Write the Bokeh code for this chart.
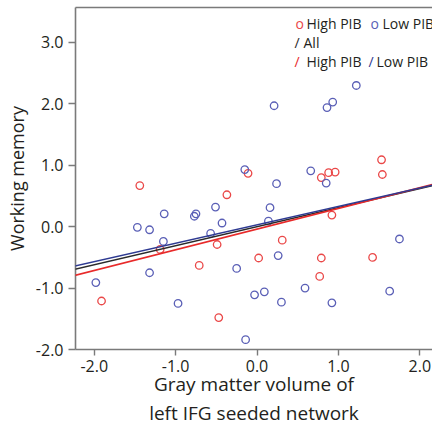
from bokeh.plotting import figure
from bokeh.models import (LinearAxis, FixedTicker, NumeralTickFormatter, Slope, Label, Range1d)
from bokeh.embed import file_html
from bokeh.resources import INLINE

# ---- data ----
high_x = [-1.44, -1.19, -1.91, -0.11, -0.37, -0.49, 0.31, 0.02, -0.71, -0.47,
          1.53, 1.54, 0.79, 0.88, 0.96, 0.92, 0.79, 1.42, 0.77]
high_y = [0.67, -0.37, -1.21, 0.87, 0.52, -0.29, -0.22, -0.51, -0.63, -1.48,
          1.09, 0.85, 0.80, 0.88, 0.89, 0.19, -0.51, -0.50, -0.81]

low_x = [-1.14, -1.47, -1.32, -1.15, -0.77, -0.75, -1.98, -1.32, -0.97, -0.15,
         0.24, -0.51, 0.16, -0.43, 0.14, -0.57, 0.26, -0.25, -0.03, 0.09,
         0.30, 0.59, -0.14, 1.22, 0.93, 0.86, 0.21, 0.66, 0.85, 1.75, 0.92, 1.63]
low_y = [0.21, -0.01, -0.05, -0.24, 0.17, 0.21, -0.91, -0.75, -1.25, 0.93,
         0.70, 0.32, 0.31, 0.06, 0.09, -0.11, -0.47, -0.68, -1.11, -1.06,
         -1.23, -1.00, -1.84, 2.30, 2.03, 1.94, 1.97, 0.91, 0.71, -0.20, -1.24, -1.05]

fit_names = ["All", "High PIB", "Low PIB"]
fit_slope = [0.31, 0.337, 0.30]
fit_intercept = [0.0, -0.04, 0.03]

x_ticks = [-2.0, -1.0, 0.0, 1.0, 2.0]
y_ticks = [-2.0, -1.0, 0.0, 1.0, 2.0, 3.0]

x_title = "Gray matter volume of\nleft IFG seeded network"
y_title = "Working memory"

# ---- styling ----
FONT = "Open Sans"
RED = "#ea4848"
BLUE = "#5a5fb6"
LINE_COLORS = {"All": "#2a2a2a", "High PIB": "#e82a2a", "Low PIB": "#2e3a92"}
AXIS_COLOR = "#7a7a7a"
TEXT_COLOR = "#231f20"

p = figure(width=432, height=429, output_backend="svg", toolbar_location=None,
           x_range=Range1d(-2.23, 2.156), y_range=Range1d(-2.0, 3.57),
           min_border_left=75, min_border_right=0, min_border_top=7,
           min_border_bottom=79, x_axis_location=None, y_axis_location=None)
p.grid.visible = False
p.outline_line_color = None
p.background_fill_color = "white"
p.border_fill_color = "white"

# axes
xax = LinearAxis(ticker=FixedTicker(ticks=x_ticks), formatter=NumeralTickFormatter(format="0.0"),
                 axis_label=x_title)
yax = LinearAxis(ticker=FixedTicker(ticks=y_ticks), formatter=NumeralTickFormatter(format="0.0"),
                 axis_label=y_title)
for ax in (xax, yax):
    ax.axis_line_color = AXIS_COLOR
    ax.axis_line_width = 1.6
    ax.major_tick_line_color = AXIS_COLOR
    ax.major_tick_line_width = 1.4
    ax.major_tick_in = 0
    ax.minor_tick_line_color = None
    ax.major_label_text_font = FONT
    ax.major_label_text_font_size = "16px"
    ax.major_label_text_color = TEXT_COLOR
    ax.axis_label_text_font = FONT
    ax.axis_label_text_font_style = "normal"
    ax.axis_label_text_color = TEXT_COLOR
xax.major_tick_out = 6
xax.major_label_standoff = 4
xax.axis_label_text_font_size = "19px"
xax.axis_label_text_line_height = 1.14
xax.axis_label_standoff = -4
yax.major_tick_out = 7
yax.major_label_standoff = 5
yax.axis_label_text_font_size = "18px"
yax.axis_label_standoff = 4
p.add_layout(xax, "below")
p.add_layout(yax, "left")

# top border as a bare axis
top = LinearAxis(ticker=FixedTicker(ticks=[]), major_label_text_font_size="0px",
                 major_tick_out=0, major_tick_in=0, major_label_standoff=0,
                 minor_tick_line_color=None, axis_line_color=AXIS_COLOR, axis_line_width=1.6)
p.add_layout(top, "above")

# regression lines
for name, m, b in zip(fit_names, fit_slope, fit_intercept):
    p.add_layout(Slope(gradient=m, y_intercept=b, line_color=LINE_COLORS[name], line_width=1.6))

# points
p.scatter(high_x, high_y, marker="circle", size=7.5, fill_color=None,
          line_color=RED, line_width=1.3)
p.scatter(low_x, low_y, marker="circle", size=7.5, fill_color=None,
          line_color=BLUE, line_width=1.3)

# legend built from labels (screen units relative to frame)
def lab(x, y, t, c):
    p.add_layout(Label(x=x, y=y, x_units="screen", y_units="screen", text=t,
                       text_font=FONT, text_font_size="14px", text_color=c,
                       text_align="left", text_baseline="middle"))

lab(220, 326, "o", RED)
lab(231, 326, "High PIB", TEXT_COLOR)
lab(295, 326, "o", BLUE)
lab(307, 326, "Low PIB", TEXT_COLOR)
lab(219, 307, "/", LINE_COLORS["All"])
lab(228, 307, "All", TEXT_COLOR)
lab(219, 288, "/", LINE_COLORS["High PIB"])
lab(231, 288, "High PIB", TEXT_COLOR)
lab(293, 288, "/", LINE_COLORS["Low PIB"])
lab(301, 288, "Low PIB", TEXT_COLOR)

open("out.html", "w").write(file_html(p, INLINE))
